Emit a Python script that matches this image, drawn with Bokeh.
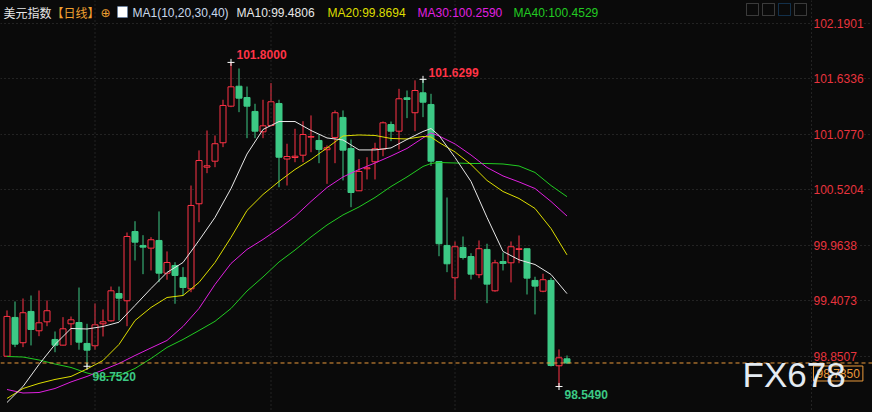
from bokeh.plotting import figure
from bokeh.models import (ColumnDataSource, Range1d, Label, Span, Grid,
                          FixedTicker, GlobalInlineStyleSheet, BoxAnnotation)
from bokeh.embed import file_html
from bokeh.resources import INLINE
from bokeh.core.properties import value

# ---------------- data ----------------
opens = [98.853, 99.242, 98.988, 99.302, 99.108, 99.198, 99.021, 98.964, 99.178, 99.191,
         98.981, 98.958, 99.178, 99.208, 99.482, 99.409, 100.104, 99.964, 99.937, 100.014,
         99.686, 99.763, 99.643, 99.529, 100.382, 100.749, 100.809, 100.994, 101.361, 101.561,
         101.448, 101.308, 101.104, 101.167, 101.388, 100.831, 100.846, 100.869, 101.050, 101.017,
         100.924, 101.047, 101.248, 100.937, 100.512, 100.733, 100.803, 100.930, 101.177, 101.110,
         101.445, 101.295, 101.495, 101.378, 100.806, 99.964, 99.640, 99.944, 99.853, 99.670,
         99.924, 99.509, 99.803, 99.790, 99.924, 99.931, 99.613, 99.505, 99.613, 98.757,
         98.827]
highs = [99.312, 99.402, 99.432, 99.462, 99.512, 99.412, 99.101, 99.245, 99.251, 99.542,
         99.178, 99.382, 99.322, 99.552, 99.552, 100.094, 100.207, 100.067, 100.047, 100.305,
         99.904, 99.796, 99.746, 100.565, 100.917, 101.117, 101.067, 101.425, 101.800, 101.739,
         101.558, 101.385, 101.425, 101.592, 101.425, 100.984, 101.134, 101.210, 101.268, 101.077,
         100.967, 101.318, 101.318, 101.027, 100.829, 100.849, 100.994, 101.207, 101.207, 101.535,
         101.518, 101.620, 101.6299, 101.485, 100.810, 100.445, 100.004, 100.054, 99.886, 100.014,
         99.981, 99.820, 99.893, 100.004, 100.064, 99.931, 99.650, 99.680, 99.640, 98.921,
         98.860]
lows = [98.850, 98.944, 98.944, 98.961, 99.054, 99.154, 98.893, 98.960, 98.964, 98.918,
        98.752, 98.918, 99.051, 99.200, 99.211, 99.154, 99.813, 99.676, 99.713, 99.596,
        99.620, 99.379, 99.462, 99.495, 100.197, 100.689, 100.749, 100.950, 101.351, 101.301,
        101.040, 101.040, 101.040, 101.157, 100.548, 100.565, 100.799, 100.799, 100.899, 100.789,
        100.582, 100.789, 100.616, 100.348, 100.510, 100.626, 100.626, 100.859, 101.010, 100.927,
        101.241, 101.110, 101.251, 100.761, 99.856, 99.696, 99.419, 99.823, 99.623, 99.636,
        99.385, 99.500, 99.713, 99.593, 99.786, 99.472, 99.272, 99.495, 98.750, 98.549,
        98.777]
closes = [99.252, 98.974, 99.289, 99.121, 99.188, 99.309, 98.964, 99.128, 99.218, 98.994,
          98.914, 99.168, 99.198, 99.509, 99.435, 100.054, 99.997, 99.947, 100.021, 99.686,
          99.793, 99.663, 99.542, 100.365, 100.816, 100.763, 100.984, 101.368, 101.555, 101.441,
          101.361, 101.110, 101.164, 101.405, 100.849, 100.856, 100.859, 101.077, 101.057, 100.927,
          100.944, 101.295, 100.920, 100.495, 100.706, 100.743, 100.934, 101.194, 101.110, 101.435,
          101.428, 101.518, 101.401, 100.809, 99.981, 99.780, 99.951, 99.843, 99.676, 99.931,
          99.576, 99.790, 99.783, 99.951, 99.931, 99.636, 99.556, 99.620, 98.760, 98.837,
          98.785]

ma_idx = [0, 2, 4, 6, 8, 10, 12, 14, 16, 18, 20, 22, 24, 26, 28, 30, 32, 34, 36, 38,
          40, 42, 44, 46, 48, 50, 52, 53, 54, 56, 58, 60, 62, 64, 66, 68, 70]
ma10 = [98.389, 98.549, 98.770, 98.971, 99.131, 99.126, 99.151, 99.194, 99.362, 99.532,
        99.693, 99.793, 100.014, 100.245, 100.535, 100.881, 101.127, 101.207, 101.207, 101.117,
        101.042, 101.022, 100.922, 100.922, 100.942, 101.027, 101.107, 101.137, 101.067, 100.846,
        100.606, 100.245, 99.904, 99.820, 99.773, 99.673, 99.4806]
ma20 = [98.429, 98.529, 98.580, 98.620, 98.650, 98.725, 98.810, 98.971, 99.211, 99.342,
        99.442, 99.462, 99.593, 99.793, 100.044, 100.315, 100.475, 100.606, 100.726, 100.826,
        100.942, 101.062, 101.072, 101.067, 101.037, 101.032, 101.057, 101.052, 100.997, 100.902,
        100.776, 100.616, 100.505, 100.435, 100.335, 100.134, 99.8694]
ma30 = [98.519, 98.484, 98.489, 98.529, 98.595, 98.650, 98.715, 98.780, 98.860, 98.936,
        99.011, 99.151, 99.332, 99.573, 99.783, 99.924, 100.024, 100.134, 100.255, 100.405,
        100.545, 100.651, 100.726, 100.791, 100.861, 100.937, 101.042, 101.092, 101.062, 100.982,
        100.871, 100.746, 100.661, 100.601, 100.535, 100.405, 100.2590]
ma40 = [98.850, 98.845, 98.815, 98.775, 98.740, 98.685, 98.645, 98.660, 98.730, 98.830,
        98.941, 99.021, 99.111, 99.203, 99.332, 99.507, 99.648, 99.798, 99.918, 100.049,
        100.169, 100.270, 100.350, 100.445, 100.555, 100.651, 100.756, 100.786, 100.796, 100.791,
        100.786, 100.786, 100.781, 100.761, 100.696, 100.565, 100.4529]

tick_vals = [102.1901, 101.6336, 101.0770, 100.5204, 99.9638, 99.4073, 98.8507]
tick_labels = ["102.1901", "101.6336", "101.0770", "100.5204", "99.9638", "99.4073", "98.8507"]
last_price = 98.7850
month_starts = [11, 33, 56]

title_name = "美元指数"
title_period = "【日线】"
ma_title = "MA1(10,20,30,40)"
ma_names = ["MA10", "MA20", "MA30", "MA40"]
ma_last = ["99.4806", "99.8694", "100.2590", "100.4529"]

# ---------------- style ----------------
BG = "#0a0a0a"
RED = "#ff3346"
GREEN = "#3cc985"
MA_COLORS = ["#e8e8e8", "#dede00", "#e020e0", "#22cc22"]
GRID = "#3c3c3c"
ORANGE = "#eb9a3c"
FONT = "Liberation Sans"

W, H = 872, 412
PX_BAR = 8.0
X0 = -0.8125
Y_TOP, Y_BOT = 102.4208, 98.2884

p = figure(width=W, height=H, output_backend="svg", toolbar_location=None,
           x_range=Range1d(X0, X0 + W / PX_BAR), y_range=Range1d(Y_BOT, Y_TOP),
           x_axis_type=None, y_axis_type=None, min_border=0,
           background_fill_color=BG, border_fill_color=BG, outline_line_color=None)
p.stylesheets = [GlobalInlineStyleSheet(css="html, body { background-color: #0a0a0a; }")]

grid = Grid(dimension=1, ticker=FixedTicker(ticks=tick_vals),
            grid_line_color=GRID, grid_line_dash="1 3")
p.add_layout(grid)

for m in month_starts:
    p.add_layout(Span(location=m, dimension="height", line_color=GRID, line_dash="1 3"))
p.add_layout(Span(location=811, location_units="screen", dimension="height",
                  line_color=GRID, line_dash="1 3"))

# ---------------- candles ----------------
n = len(opens)
up_src = dict(x=[], top=[], bottom=[], high=[], low=[])
dn_src = dict(x=[], top=[], bottom=[], high=[], low=[])
for i in range(n):
    d = up_src if closes[i] >= opens[i] else dn_src
    d["x"].append(i)
    d["top"].append(max(opens[i], closes[i]))
    d["bottom"].append(min(opens[i], closes[i]))
    d["high"].append(highs[i])
    d["low"].append(lows[i])
up = ColumnDataSource(up_src)
dn = ColumnDataSource(dn_src)

p.segment(x0="x", y0="low", x1="x", y1="high", source=dn, line_color=GREEN, line_width=1)
p.vbar(x="x", width=0.75, top="top", bottom="bottom", source=dn,
       fill_color=GREEN, line_color=GREEN, line_width=1)
p.segment(x0="x", y0="low", x1="x", y1="high", source=up, line_color=RED, line_width=1)
p.vbar(x="x", width=0.75, top="top", bottom="bottom", source=up,
       fill_color=BG, line_color=RED, line_width=1)

# ---------------- moving averages ----------------
for vals, col in zip([ma40, ma30, ma20, ma10], MA_COLORS[::-1]):
    p.line(ma_idx, vals, line_color=col, line_width=1)

p.add_layout(Span(location=last_price, dimension="width", line_color=ORANGE,
                  line_dash="4 3", line_width=1))

# ---------------- extreme markers ----------------
i_hi = max(range(n), key=lambda i: highs[i])
i_lo = min(range(n), key=lambda i: lows[i])
i_hi2 = max(range(45, n), key=lambda i: highs[i])
i_lo2 = min(range(0, 20), key=lambda i: lows[i])
ext = ColumnDataSource(dict(
    x=[i_hi, i_hi2, i_lo2, i_lo],
    y=[highs[i_hi], highs[i_hi2], lows[i_lo2], lows[i_lo]],
    t=["%.4f" % highs[i_hi], "%.4f" % highs[i_hi2], "%.4f" % lows[i_lo2], "%.4f" % lows[i_lo]],
    c=[RED, RED, GREEN, GREEN],
    dy=[-8, -6.5, 10, 8],
))
p.scatter(x="x", y="y", source=ext, marker="cross", size=7, line_color="white", line_width=1)
p.text(x="x", y="y", text="t", source=ext, x_offset=5.5, y_offset="dy",
       text_color="c", text_font=value(FONT), text_font_style="bold",
       text_font_size="12px", text_baseline="middle", text_align="left")

# ---------------- price labels (right) ----------------
for v, t in zip(tick_vals, tick_labels):
    p.add_layout(Label(x=813, x_units="screen", y=v, y_units="data", text=t,
                       text_color="#e8343e", text_font=FONT, text_font_size="12px",
                       text_baseline="middle", text_align="left",
                       background_fill_color=BG))
p.add_layout(Label(x=813, x_units="screen", y=last_price, y_units="data", y_offset=-3,
                   text="%.4f" % last_price, text_color=ORANGE, text_font=FONT,
                   text_font_size="12px", text_baseline="top", text_align="left",
                   background_fill_color=BG, border_line_color=ORANGE, padding=3))

# ---------------- header ----------------
HY = 400
def hdr(x, text, color, font=FONT):
    p.add_layout(Label(x=x, y=HY, x_units="screen", y_units="screen", text=text,
                       text_color=color, text_font=font, text_font_size="12px",
                       text_baseline="middle", text_align="left"))

hdr(3, title_name, "#e6e6e6", "Noto Sans CJK SC")
hdr(51, title_period, "#f0a030", "Noto Sans CJK SC")
hdr(100, "⊕", "#f0a030", "DejaVu Sans")
hdr(132, ma_title, "#c8d8ec")
xs = [236, 327, 417, 513]
for x, nm, v, col in zip(xs, ma_names, ma_last, MA_COLORS):
    hdr(x, "%s:%s" % (nm, v), col)

p.add_layout(BoxAnnotation(left=117, right=127, top=406, bottom=395,
                           left_units="screen", right_units="screen",
                           top_units="screen", bottom_units="screen",
                           fill_color="white", fill_alpha=1, line_color="#3a7fd8"))
for k, lc in enumerate(["#b0b0b0", "#b0b0b0", "#2a8ae0", "#b0b0b0"]):
    p.add_layout(BoxAnnotation(left=746 + 16 * k, right=758 + 16 * k, top=409, bottom=397,
                               left_units="screen", right_units="screen",
                               top_units="screen", bottom_units="screen",
                               fill_alpha=0, line_color=lc))

# ---------------- watermark ----------------
p.add_layout(Label(x=742, y=38, x_units="screen", y_units="screen", text="FX678",
                   text_color="#e4ebf2", text_font=FONT, text_font_size="35px",
                   text_baseline="middle", text_align="left"))

open("out.html", "w").write(file_html(p, INLINE))
